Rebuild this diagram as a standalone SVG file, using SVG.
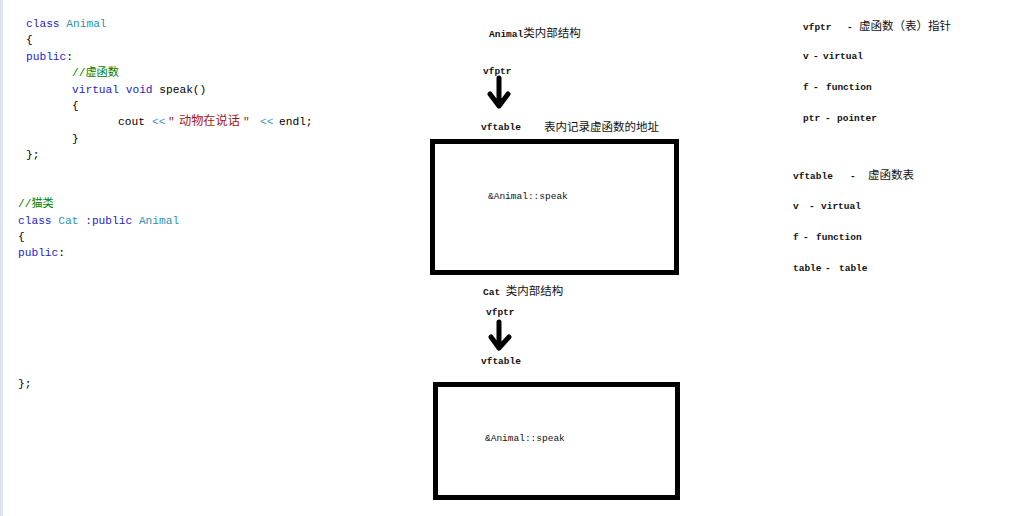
<svg xmlns="http://www.w3.org/2000/svg" width="1024" height="516" viewBox="0 0 1024 516">
<style>
.code{font-family:"Liberation Mono","Noto Sans CJK SC",monospace;font-size:11.2px;fill:#000}
.kw{fill:#1b1bd0}
.cls{fill:#2b91af}
.cm{fill:#008000}
.str{fill:#a31515}
.op{fill:#3a9ab8}
.lbl{font-family:"Liberation Mono","Noto Sans CJK SC",monospace;font-size:9.5px;font-weight:bold;fill:#111}
.cn{font-family:"Noto Sans CJK SC",sans-serif;font-size:11.5px;font-weight:normal;fill:#111}
.box{fill:none;stroke:#000;stroke-width:5}
.arr{fill:none;stroke:#000;stroke-width:5;stroke-linecap:round;stroke-linejoin:round}
</style>
<rect x="0" y="0" width="1024" height="516" fill="#fff"/>
<rect x="0" y="0" width="3" height="516" fill="#dfe4ee"/>

<g id="code-animal" class="code">
<text x="26" y="27"><tspan class="kw">class</tspan> <tspan class="cls">Animal</tspan></text>
<text x="26" y="43.4">{</text>
<text x="26" y="59.8" class="kw">public<tspan fill="#000">:</tspan></text>
<text x="72" y="76.2" class="cm">//虚函数</text>
<text x="72" y="92.6"><tspan class="kw">virtual</tspan> <tspan class="kw">void</tspan> speak()</text>
<text x="72" y="109">{</text>
<text x="118" y="125.4">cout<tspan x="152" class="op">&lt;&lt;</tspan><tspan x="168" class="str">"</tspan><tspan x="179" class="str" style="font-size:12.2px">动物在说话</tspan><tspan x="243" class="str">"</tspan><tspan x="260" class="op">&lt;&lt;</tspan><tspan x="279">endl;</tspan></text>
<text x="72" y="141.8">}</text>
<text x="26" y="158.2">};</text>
</g>

<g id="code-cat" class="code">
<text x="18" y="207" class="cm">//猫类</text>
<text x="18" y="224"><tspan class="kw">class</tspan> <tspan class="cls">Cat</tspan> <tspan class="kw">:public</tspan> <tspan class="cls">Animal</tspan></text>
<text x="18" y="240">{</text>
<text x="18" y="256" class="kw">public<tspan fill="#000">:</tspan></text>
<text x="18" y="387">};</text>
</g>

<g id="animal-structure">
<text x="489" y="37" class="lbl">Animal<tspan class="cn">类内部结构</tspan></text>
<text x="483" y="74" class="lbl">vfptr</text>
<text x="481" y="130" class="lbl">vftable</text>
<text x="544" y="131" class="cn">表内记录虚函数的地址</text>
</g>

<g id="animal-vftable">
<rect x="432.5" y="141.5" width="244" height="131" class="box"/>
<text x="488" y="199" class="lbl" style="font-weight:normal">&amp;Animal::speak</text>
</g>

<g id="cat-structure">
<text x="483" y="295" class="lbl">Cat <tspan class="cn">类内部结构</tspan></text>
<text x="486" y="315" class="lbl">vfptr</text>
<text x="481" y="364" class="lbl">vftable</text>
</g>

<g id="cat-vftable">
<rect x="435.5" y="384.5" width="242" height="113" class="box"/>
<text x="485" y="441" class="lbl" style="font-weight:normal">&amp;Animal::speak</text>
</g>

<g id="connectors">
<path class="arr" d="M499,78 V106 M490,94 L499,106 L508,94"/>
<path class="arr" d="M499,322 V348 M491,337 L499,348 L509,337"/>
</g>

<g id="legend-vfptr">
<text x="803" y="30" class="lbl">vfptr<tspan x="847">-</tspan><tspan x="859" class="cn">虚函数（表）指针</tspan></text>
<text x="803" y="59" class="lbl">v<tspan x="813">-</tspan><tspan x="823">virtual</tspan></text>
<text x="803" y="90" class="lbl">f<tspan x="813">-</tspan><tspan x="826">function</tspan></text>
<text x="803" y="121" class="lbl">ptr<tspan x="825">-</tspan><tspan x="837">pointer</tspan></text>
</g>

<g id="legend-vftable">
<text x="793" y="179" class="lbl">vftable<tspan x="850">-</tspan><tspan x="868" class="cn">虚函数表</tspan></text>
<text x="793" y="209" class="lbl">v<tspan x="809">-</tspan><tspan x="821">virtual</tspan></text>
<text x="793" y="240" class="lbl">f<tspan x="803">-</tspan><tspan x="816">function</tspan></text>
<text x="793" y="271" class="lbl">table<tspan x="825">-</tspan><tspan x="839">table</tspan></text>
</g>
</svg>
